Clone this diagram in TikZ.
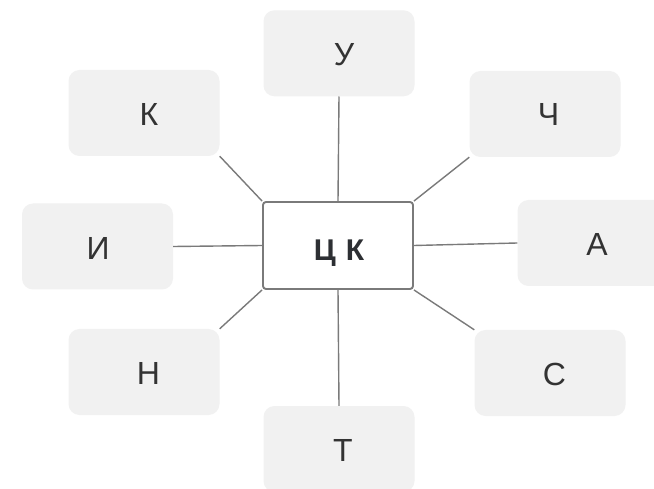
\documentclass[tikz,border=0pt]{standalone}
\usepackage{fontspec}
\setmainfont{Liberation Sans}
\definecolor{boxfill}{HTML}{F1F1F1}
\definecolor{linegray}{HTML}{7A7A7A}
\definecolor{txt}{HTML}{333333}
\definecolor{ctxt}{HTML}{2D2F33}
\tikzset{
  outer/.style={fill=boxfill, rounded corners=11pt, minimum width=151pt, minimum height=86pt, text=txt, font=\fontsize{32}{34}\selectfont, inner sep=0pt},
  hub/.style={draw=linegray, line width=1.9pt, fill=white, rounded corners=3pt, minimum width=150pt, minimum height=87pt, text=ctxt, font=\fontsize{30}{34}\selectfont\bfseries, inner sep=0pt},
  link/.style={draw=linegray, line width=1.4pt}
}
\newcommand{\sh}[3]{\hspace*{#1pt}\raisebox{-#2pt}[0.716em][0pt]{#3}}
\begin{document}
\begin{tikzpicture}[x=1pt,y=-1pt]
\useasboundingbox (0,0) rectangle (654,489);
\clip (0,0) rectangle (654,489);
\fill[white] (0,0) rectangle (654,489);
\node[outer] (u) at (339,53.3) {\sh{10}{1}{У}};
\node[outer] (k) at (144,113) {\sh{10}{1}{К}};
\node[outer] (ch) at (545,114) {\sh{7}{0}{Ч}};
\node[outer] (i) at (97.5,246.5) {\sh{1}{1.5}{И}};
\node[outer] (a) at (593,243) {\sh{8}{1}{А}};
\node[outer] (n) at (144,372) {\sh{9}{1}{Н}};
\node[outer] (s) at (550,373) {\sh{9}{1.5}{С}};
\node[outer] (t) at (339,449) {\sh{8}{1.5}{Т}};
\node[hub] (c) at (338,245.5) {\sh{2}{4}{\spaceskip=10pt Ц К}};
\draw[link] (c.north) -- (u.south);
\draw[link] (c.south) -- (t.north);
\draw[link] (c.west) -- (i.east);
\draw[link] (c.east) -- (a.west);
\draw[link] (c.north west) -- (k.south east);
\draw[link] (c.north east) -- (ch.south west);
\draw[link] (c.south west) -- (n.north east);
\draw[link] (c.south east) -- (s.north west);
\end{tikzpicture}
\end{document}
